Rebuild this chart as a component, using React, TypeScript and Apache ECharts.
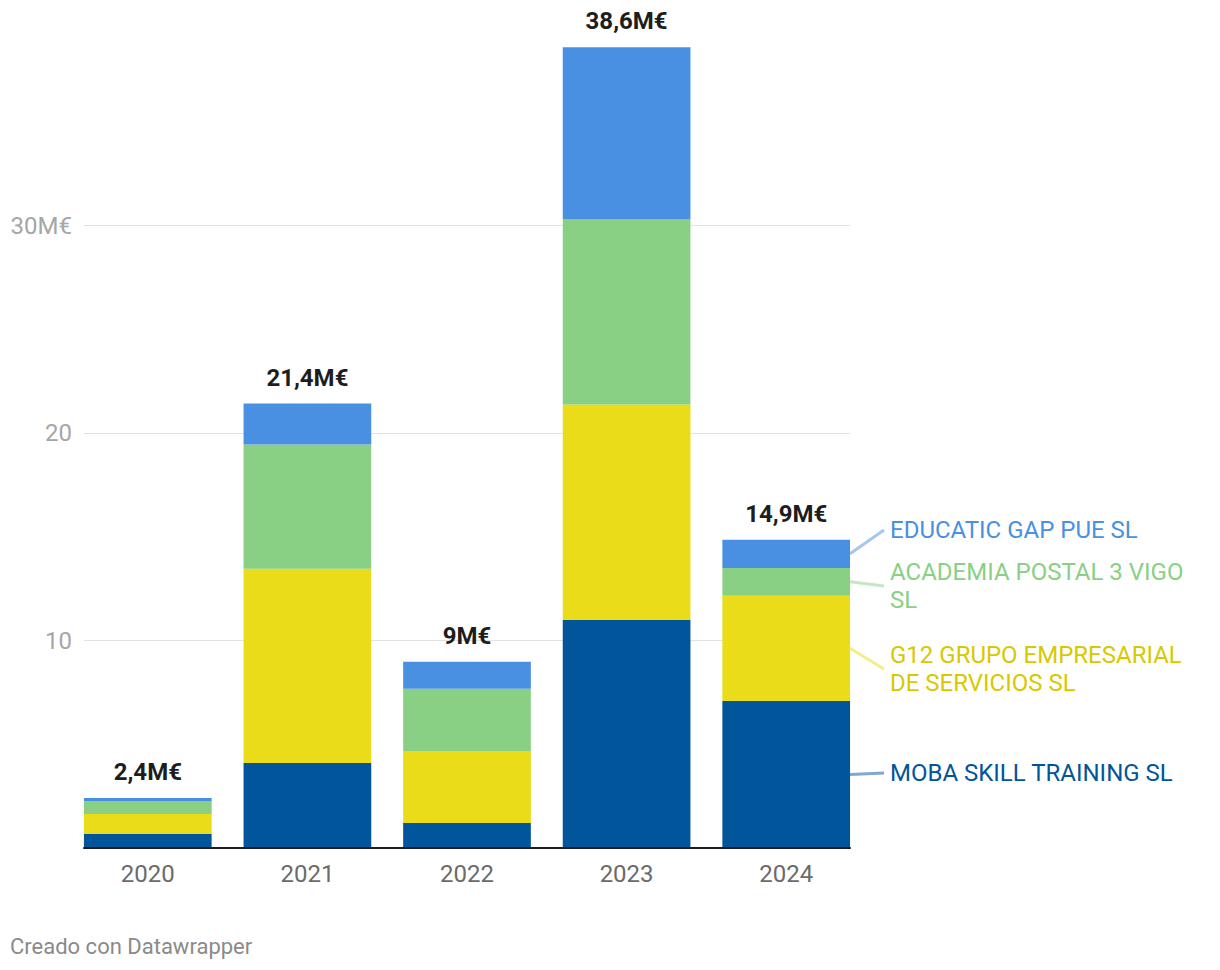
import React, { useEffect, useRef } from "react";
import * as echarts from "echarts";

const years = ["2020", "2021", "2022", "2023", "2024"];
const seriesNames = [
  "MOBA SKILL TRAINING SL",
  "G12 GRUPO EMPRESARIAL DE SERVICIOS SL",
  "ACADEMIA POSTAL 3 VIGO SL",
  "EDUCATIC GAP PUE SL",
];
const moba = [0.68, 4.1, 1.2, 11.0, 7.09];
const g12 = [0.96, 9.36, 3.48, 10.37, 5.07];
const academia = [0.63, 5.98, 2.99, 8.92, 1.34];
const educatic = [0.14, 1.98, 1.3, 8.3, 1.36];
const yTicks = [0, 10, 20, 30];

const barColors = ["#01559a", "#ebdc19", "#89d084", "#4a90e2"];
const textColors = ["#01559a", "#d8c800", "#89d084", "#4a90e2"];
const legendLabels = [
  "MOBA SKILL TRAINING SL",
  "G12 GRUPO EMPRESARIAL\nDE SERVICIOS SL",
  "ACADEMIA POSTAL 3 VIGO\nSL",
  "EDUCATIC GAP PUE SL",
];
const legendCenters = [773, 669, 586, 530];

const FONT = "Roboto, 'Noto Sans', sans-serif";

function fmtTotal(v: number) {
  const r = Math.round(v * 10) / 10;
  const s = Number.isInteger(r) ? String(r) : r.toFixed(1).replace(".", ",");
  return s + "M€";
}

export default function App() {
  const ref = useRef<HTMLDivElement>(null);
  useEffect(() => {
    if (!ref.current) return;
    const chart = echarts.init(ref.current, undefined, { renderer: "svg" });
    const data = [moba, g12, academia, educatic];
    const totals = years.map((_, i) => data.reduce((s, d) => s + d[i], 0));
    const series: any[] = data.map((d, k) => ({
      name: seriesNames[k],
      type: "bar",
      stack: "total",
      xAxisIndex: 0,
      yAxisIndex: 0,
      data: d,
      barCategoryGap: "20%",
      itemStyle: { color: barColors[k] },
      z: 5,
      label:
        k === data.length - 1
          ? {
              show: true,
              position: "top",
              distance: 14,
              formatter: (p: any) => fmtTotal(totals[p.dataIndex]),
              fontFamily: FONT,
              fontSize: 24,
              fontWeight: "bold",
              color: "#1d1d1d",
            }
          : { show: false },
    }));
    chart.setOption({
      animation: false,
      backgroundColor: "#ffffff",
      textStyle: { fontFamily: FONT },
      grid: [
        { left: 68, right: 354, top: 18, bottom: 122, containLabel: false },
        { left: 84, right: 370, top: 18, bottom: 122, containLabel: false },
      ],
      xAxis: [
        {
          type: "category",
          gridIndex: 0,
          data: years,
          axisLine: { show: false },
          axisTick: { show: false },
          axisLabel: { fontSize: 24, color: "#6b6b6b", margin: 14, fontFamily: FONT },
        },
        {
          type: "category",
          gridIndex: 1,
          data: years,
          z: 10,
          axisLine: { show: true, lineStyle: { color: "#1d1d1d", width: 2 } },
          axisTick: { show: false },
          axisLabel: { show: false },
        },
      ],
      yAxis: [
        {
          type: "value",
          gridIndex: 0,
          min: yTicks[0],
          max: 40,
          interval: 10,
          axisLine: { show: false },
          axisTick: { show: false },
          splitLine: { show: false },
          axisLabel: { show: false },
        },
        {
          type: "value",
          gridIndex: 1,
          min: yTicks[0],
          max: 40,
          interval: 10,
          axisLine: { show: false },
          axisTick: { show: false },
          splitLine: {
            show: true,
            showMinLine: false,
            showMaxLine: false,
            lineStyle: { color: "#e2e2e2", width: 1 },
          },
          axisLabel: {
            showMinLabel: false,
            showMaxLabel: false,
            fontSize: 24,
            color: "#a6a6a6",
            margin: 12,
            fontFamily: FONT,
            formatter: (v: number) => (v === 30 ? "30M€" : String(v)),
          },
        },
      ],
      series,
    });

    const last = years.length - 1;
    const graphics: any[] = [];
    let cum = 0;
    const rightEdge = chart.convertToPixel({ gridIndex: 1 } as any, [last, 0]) as number[];
    const barRight = 1220 - 370;
    void rightEdge;
    data.forEach((d, k) => {
      const mid = cum + d[last] / 2;
      cum += d[last];
      const p = chart.convertToPixel({ gridIndex: 0 } as any, [last, mid]) as number[];
      const y0 = p[1];
      const y1 = legendCenters[k];
      graphics.push({
        type: "line",
        shape: { x1: barRight, y1: y0, x2: barRight + 34, y2: y1 },
        style: { stroke: barColors[k], lineWidth: 3, opacity: 0.5 },
        z: 100,
      });
      graphics.push({
        type: "text",
        x: 890,
        y: y1,
        style: {
          text: legendLabels[k],
          fill: textColors[k],
          font: `24px ${FONT}`,
          lineHeight: 28,
          verticalAlign: "middle",
          align: "left",
        },
        z: 100,
      });
    });
    graphics.push({
      type: "text",
      x: 10,
      y: 946,
      style: {
        text: "Creado con Datawrapper",
        fill: "#8a8a8a",
        font: `22px ${FONT}`,
        verticalAlign: "middle",
      },
    });
    chart.setOption({ graphic: graphics });
    return () => chart.dispose();
  }, []);
  return (
    <div
      ref={ref}
      style={{ position: "fixed", left: 0, top: 0, width: 1220, height: 970, background: "#fff" }}
    />
  );
}
